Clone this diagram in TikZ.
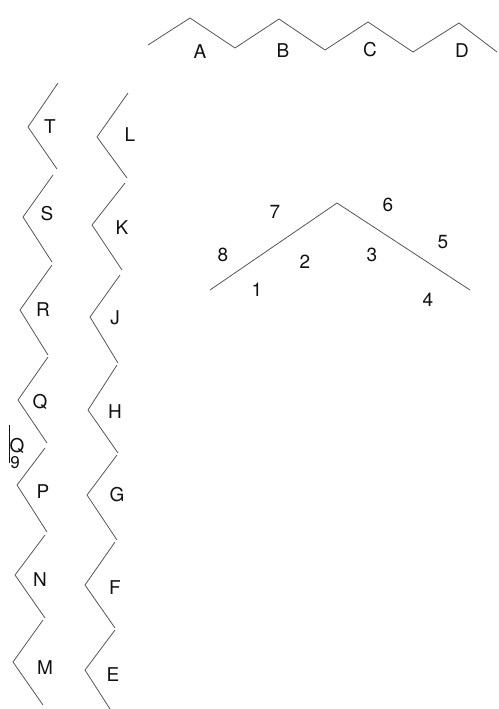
\documentclass[tikz,border=0pt]{standalone}
\usepackage{fontspec}
\setmainfont{TeX Gyre Heros}
\definecolor{zzline}{HTML}{555555}
\definecolor{zztext}{HTML}{111111}

\begin{document}
\begin{tikzpicture}[x=1pt, y=-1pt,
  zz/.style={draw=zzline, line width=0.8pt, line join=miter},
  lab/.style={font=\fontsize{19}{19}\selectfont, text=zztext, inner sep=0pt},
  small/.style={lab, font=\fontsize{17}{17}\selectfont}]
\useasboundingbox (0,0) rectangle (498,709);
% top zigzag
\draw[zz] (148,45) -- (190,18) -- (235,48) -- (279,19) -- (325,50)
  -- (368,22) -- (413,52) -- (459,23) -- (497,52);
\node[lab] (lA) at (200,52) {A};
\node[lab] (lB) at (283,51) {B};
\node[lab] (lC) at (370,50) {C};
\node[lab] (lD) at (462,51) {D};
% left column
\foreach \tx/\ty/\ax/\ay/\bx/\by/\px/\py/\name in {
  58/83/28/127/57/169/50/127/T,
  53/175/23/217/52/262/47/214/S,
  52/265/20/310/48/355/43/310/R,
  48/357/18/400/47/443/40/402/Q,
  45/448/17/485/47/532/43/492/P,
  45/535/15/575/45/618/40/580/N,
  43/620/13/662/43/705/45/668/M} {
  \draw[zz] (\tx,\ty) -- (\ax,\ay) -- (\bx,\by);
  \node[lab] (l\name) at (\px,\py) {\name};
}
% right column
\foreach \tx/\ty/\ax/\ay/\bx/\by/\px/\py/\name in {
  128/93/97/137/127/178/130/135/L,
  125/183/92/225/122/270/122/228/K,
  120/275/90/317/118/363/115/318/J,
  117/365/88/410/118/453/115/412/H,
  117/455/87/495/117/540/117/495/G,
  115/542/85/585/115/628/115/588/F,
  115/630/85/670/110/709/113/675/E} {
  \draw[zz] (\tx,\ty) -- (\ax,\ay) -- (\bx,\by);
  \node[lab] (l\name) at (\px,\py) {\name};
}
% margin mark
\draw[zz, draw=zztext] (9,425) -- (9,463);
\node[lab] (mQ) at (17,446) {Q};
\node[small] (m9) at (15,463) {9};
% fold
\draw[zz] (210,290) -- (337,203) -- (470,290);
\node[lab] (n1) at (257,290) {1};
\node[lab] (n2) at (305,262) {2};
\node[lab] (n3) at (372,255) {3};
\node[lab] (n4) at (428,300) {4};
\node[lab] (n5) at (443,242) {5};
\node[lab] (n6) at (388,205) {6};
\node[lab] (n7) at (275,212) {7};
\node[lab] (n8) at (223,255) {8};
\end{tikzpicture}
\end{document}
